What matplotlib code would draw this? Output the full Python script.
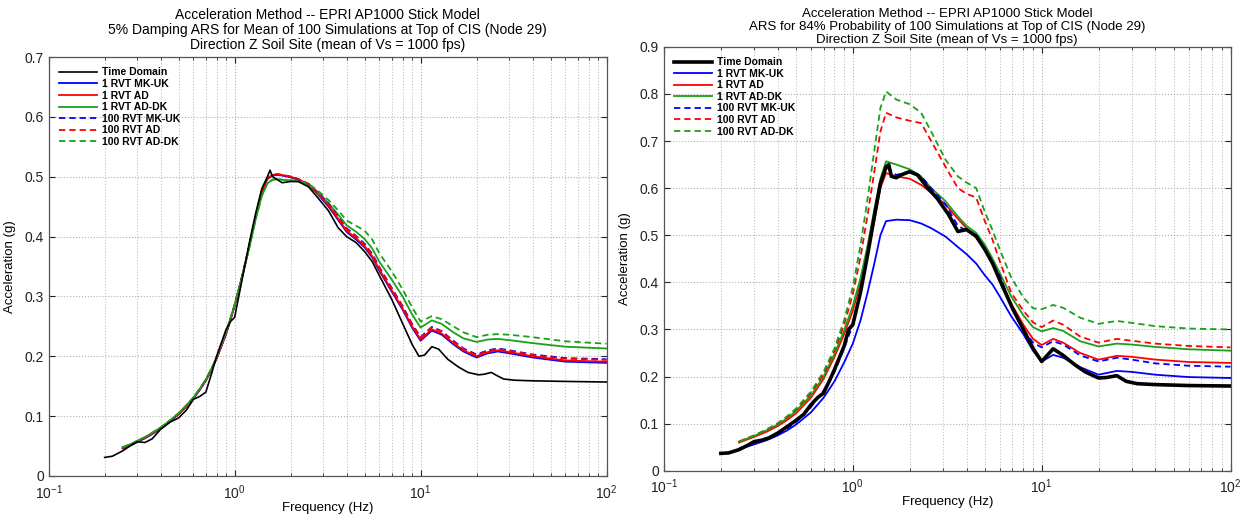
import matplotlib
matplotlib.use("Agg")
import matplotlib.pyplot as plt
from matplotlib.ticker import FixedLocator, NullFormatter

plt.rcParams['font.family'] = ['Liberation Sans', 'DejaVu Sans']
plt.rcParams['mathtext.fontset'] = 'custom'
plt.rcParams['mathtext.rm'] = 'Liberation Sans'
plt.rcParams['mathtext.it'] = 'Liberation Sans'

# ---- left chart: mean of 100 simulations ----
freq_td_left = [0.2, 0.22, 0.25, 0.28, 0.3, 0.33, 0.36, 0.4, 0.45, 0.5, 0.55, 0.6, 0.65, 0.7, 0.75,
                0.8, 0.9, 0.95, 1.0, 1.1, 1.2, 1.3, 1.4, 1.5, 1.55, 1.6, 1.7, 1.8, 2.0, 2.2, 2.5, 2.8,
                3.2, 3.6, 4.0, 4.5, 5.0, 5.5, 6.0, 7.0, 8.0, 9.0, 9.8, 10.5, 11.5, 12.5, 14, 16, 18,
                20.5, 22, 24, 26, 28, 32, 40, 60, 100]
td_left = [0.031, 0.033, 0.042, 0.052, 0.057, 0.056, 0.062, 0.078, 0.09, 0.097,
           0.11, 0.128, 0.133, 0.14, 0.17, 0.2, 0.245, 0.258, 0.265, 0.33,
           0.39, 0.44, 0.48, 0.5, 0.511, 0.5, 0.495, 0.49, 0.492, 0.492,
           0.483, 0.465, 0.443, 0.415, 0.4, 0.39, 0.375, 0.358, 0.335, 0.295,
           0.255, 0.22, 0.2, 0.202, 0.216, 0.212, 0.195, 0.182, 0.173, 0.169,
           0.17, 0.173, 0.167, 0.162, 0.16, 0.159, 0.158, 0.157]

freq_rvt_left = [0.25, 0.28, 0.3, 0.33, 0.36, 0.4, 0.45, 0.5, 0.55, 0.6, 0.65, 0.7, 0.75, 0.8, 0.9,
                 1.0, 1.1, 1.2, 1.3, 1.4, 1.5, 1.6, 1.7, 1.8, 2.0, 2.2, 2.5, 2.8, 3.2, 3.6, 4.0, 4.5,
                 5.0, 5.5, 6.0, 7.0, 8.0, 9.0, 10, 11.5, 13, 15, 17, 20, 23, 26, 30, 40, 60, 100]
mkuk1_left = [0.046, 0.052, 0.057, 0.063, 0.07, 0.079, 0.091, 0.103, 0.116, 0.129,
              0.144, 0.159, 0.177, 0.196, 0.237, 0.284, 0.334, 0.384, 0.434, 0.474,
              0.496, 0.502, 0.503, 0.502, 0.499, 0.495, 0.486, 0.471, 0.45, 0.428,
              0.408, 0.395, 0.382, 0.365, 0.343, 0.308, 0.278, 0.248, 0.226, 0.243,
              0.236, 0.22, 0.208, 0.198, 0.205, 0.208, 0.205, 0.198, 0.191, 0.189]
ad1_left = [0.047, 0.053, 0.058, 0.064, 0.071, 0.08, 0.092, 0.104, 0.117, 0.13,
            0.145, 0.16, 0.178, 0.197, 0.238, 0.285, 0.335, 0.385, 0.435, 0.475,
            0.497, 0.503, 0.504, 0.503, 0.5, 0.496, 0.487, 0.472, 0.452, 0.43,
            0.41, 0.397, 0.384, 0.367, 0.345, 0.31, 0.28, 0.25, 0.228, 0.245,
            0.238, 0.222, 0.21, 0.2, 0.207, 0.21, 0.207, 0.2, 0.193, 0.191]
addk1_left = [0.048, 0.054, 0.059, 0.065, 0.072, 0.081, 0.093, 0.105, 0.118, 0.131,
              0.146, 0.161, 0.179, 0.198, 0.24, 0.286, 0.334, 0.382, 0.43, 0.468,
              0.489, 0.495, 0.496, 0.495, 0.494, 0.492, 0.486, 0.474, 0.456, 0.437,
              0.419, 0.408, 0.396, 0.38, 0.358, 0.328, 0.3, 0.27, 0.248, 0.26,
              0.254, 0.24, 0.23, 0.224, 0.228, 0.229, 0.227, 0.222, 0.216, 0.213]
mkuk100_left = [0.047, 0.053, 0.058, 0.064, 0.071, 0.08, 0.092, 0.104, 0.117, 0.13,
                0.145, 0.16, 0.178, 0.197, 0.238, 0.285, 0.335, 0.385, 0.435, 0.475,
                0.497, 0.503, 0.504, 0.503, 0.5, 0.496, 0.488, 0.474, 0.455, 0.433,
                0.414, 0.401, 0.388, 0.371, 0.349, 0.314, 0.284, 0.254, 0.232, 0.249,
                0.242, 0.226, 0.213, 0.203, 0.21, 0.213, 0.21, 0.203, 0.197, 0.195]
ad100_left = [0.047, 0.053, 0.058, 0.064, 0.071, 0.08, 0.092, 0.104, 0.117, 0.13,
              0.145, 0.16, 0.178, 0.197, 0.238, 0.285, 0.335, 0.385, 0.435, 0.475,
              0.497, 0.503, 0.504, 0.503, 0.5, 0.496, 0.488, 0.473, 0.454, 0.432,
              0.413, 0.4, 0.387, 0.37, 0.348, 0.313, 0.283, 0.253, 0.231, 0.248,
              0.241, 0.225, 0.212, 0.202, 0.209, 0.212, 0.209, 0.202, 0.196, 0.194]
addk100_left = [0.048, 0.054, 0.059, 0.065, 0.072, 0.081, 0.093, 0.105, 0.118, 0.131,
                0.146, 0.161, 0.179, 0.198, 0.24, 0.286, 0.334, 0.382, 0.43, 0.468,
                0.489, 0.495, 0.496, 0.495, 0.494, 0.493, 0.488, 0.477, 0.461, 0.444,
                0.427, 0.418, 0.41, 0.395, 0.372, 0.342, 0.312, 0.282, 0.258, 0.267,
                0.262, 0.25, 0.24, 0.232, 0.236, 0.237, 0.236, 0.232, 0.225, 0.221]

# ---- right chart: 84% probability ----
freq_td_right = [0.2, 0.22, 0.25, 0.28, 0.3, 0.33, 0.36, 0.4, 0.45, 0.5, 0.55, 0.6, 0.65, 0.7, 0.75,
                 0.8, 0.9, 0.95, 1.0, 1.1, 1.2, 1.3, 1.4, 1.5, 1.55, 1.6, 1.7, 1.8, 2.0, 2.2, 2.5,
                 2.8, 3.2, 3.6, 4.0, 4.5, 5.0, 5.5, 6.0, 7.0, 8.0, 9.0, 10, 11.5, 13, 15, 17, 20,
                 22, 25, 28, 32, 40, 60, 100]
td_right = [0.037, 0.038, 0.045, 0.055, 0.062, 0.065, 0.07, 0.08, 0.094, 0.107,
            0.12, 0.14, 0.155, 0.165, 0.19, 0.215, 0.265, 0.3, 0.31, 0.38,
            0.46, 0.54, 0.61, 0.645, 0.65, 0.625, 0.622, 0.628, 0.635, 0.628,
            0.6, 0.578, 0.545, 0.508, 0.512, 0.498, 0.47, 0.44, 0.405, 0.345,
            0.3, 0.26, 0.232, 0.259, 0.245, 0.225, 0.21, 0.197, 0.198, 0.202,
            0.19, 0.185, 0.183, 0.181, 0.18]

freq_rvt_right = [0.25, 0.3, 0.35, 0.4, 0.45, 0.5, 0.6, 0.7, 0.8, 0.9, 1.0, 1.1, 1.2, 1.3, 1.4,
                  1.5, 1.7, 2.0, 2.3, 2.6, 3.1, 3.6, 4.0, 4.5, 5.0, 5.5, 6.0, 6.9, 8.0, 9.0, 10,
                  11.5, 13, 16, 20, 25, 30, 40, 60, 100]
mkuk1_right = [0.046, 0.056, 0.065, 0.075, 0.086, 0.098, 0.124, 0.155, 0.19, 0.23,
               0.27, 0.32, 0.38, 0.44, 0.5, 0.53, 0.533, 0.532, 0.525, 0.515,
               0.497, 0.475, 0.46, 0.44, 0.415, 0.395, 0.37, 0.328, 0.29, 0.255,
               0.232, 0.246, 0.24, 0.22, 0.204, 0.212, 0.21, 0.204, 0.199, 0.197]
ad1_right = [0.06, 0.072, 0.083, 0.095, 0.108, 0.122, 0.155, 0.195, 0.242, 0.29,
             0.34, 0.4, 0.46, 0.53, 0.6, 0.632, 0.625, 0.62, 0.607, 0.59,
             0.565, 0.535, 0.515, 0.495, 0.47, 0.44, 0.41, 0.355, 0.31, 0.28,
             0.267, 0.28, 0.272, 0.25, 0.236, 0.244, 0.242, 0.236, 0.231, 0.229]
addk1_right = [0.062, 0.074, 0.086, 0.098, 0.112, 0.127, 0.16, 0.2, 0.248, 0.298,
               0.35, 0.41, 0.48, 0.555, 0.62, 0.657, 0.65, 0.64, 0.625, 0.6,
               0.572, 0.54, 0.52, 0.505, 0.48, 0.45, 0.42, 0.37, 0.33, 0.305,
               0.296, 0.303, 0.297, 0.275, 0.264, 0.27, 0.268, 0.263, 0.258, 0.255]
mkuk100_right = [0.048, 0.058, 0.068, 0.078, 0.09, 0.103, 0.135, 0.17, 0.21, 0.26,
                 0.31, 0.38, 0.46, 0.54, 0.605, 0.645, 0.628, 0.635, 0.625, 0.6,
                 0.565, 0.52, 0.51, 0.497, 0.47, 0.44, 0.415, 0.35, 0.3, 0.272,
                 0.262, 0.275, 0.268, 0.245, 0.232, 0.24, 0.236, 0.228, 0.223, 0.221]
ad100_right = [0.062, 0.075, 0.087, 0.1, 0.114, 0.13, 0.165, 0.205, 0.255, 0.31,
               0.375, 0.455, 0.545, 0.635, 0.72, 0.76, 0.75, 0.743, 0.738, 0.7,
               0.645, 0.6, 0.588, 0.58, 0.53, 0.49, 0.445, 0.378, 0.34, 0.315,
               0.305, 0.319, 0.31, 0.285, 0.272, 0.28, 0.276, 0.27, 0.265, 0.262]
addk100_right = [0.062, 0.075, 0.088, 0.101, 0.116, 0.132, 0.168, 0.21, 0.26, 0.32,
                 0.39, 0.48, 0.58, 0.68, 0.77, 0.805, 0.788, 0.778, 0.76, 0.72,
                 0.66, 0.625, 0.612, 0.6, 0.55, 0.51, 0.47, 0.41, 0.368, 0.345,
                 0.343, 0.352, 0.346, 0.325, 0.312, 0.318, 0.314, 0.307, 0.302, 0.3]

labels = ['Time Domain', '1 RVT MK-UK', '1 RVT AD', '1 RVT AD-DK',
          '100 RVT MK-UK', '100 RVT AD', '100 RVT AD-DK']
BLUE, RED, GREEN = '#0000ff', '#ff0000', '#1aa01a'
DASH = (0, (3.5, 2.2))

titles_left = ['Acceleration Method -- EPRI AP1000 Stick Model',
               '5% Damping ARS for Mean of 100 Simulations at Top of CIS (Node 29)',
               'Direction Z Soil Site (mean of Vs = 1000 fps)']
titles_right = ['Acceleration Method -- EPRI AP1000 Stick Model',
                'ARS for 84% Probability of 100 Simulations at Top of CIS (Node 29)',
                'Direction Z Soil Site (mean of Vs = 1000 fps)']


def draw_panel(ax, f_td, td, f_rvt, rvt_series, ymax, td_width, title_lines, title_size, title_pad):
    styles = [(BLUE, '-'), (RED, '-'), (GREEN, '-'), (BLUE, DASH), (RED, DASH), (GREEN, DASH)]
    ax.plot(f_td, td, color='black', lw=td_width, label=labels[0], zorder=5)
    for vals, (col, ls), lab in zip(rvt_series, styles, labels[1:]):
        ax.plot(f_rvt, vals, color=col, ls=ls, lw=1.3, label=lab)

    ax.set_xscale('log')
    ax.set_xlim(0.1, 100)
    ax.set_ylim(0, ymax)
    ax.yaxis.set_major_locator(FixedLocator([i / 10 for i in range(int(round(ymax * 10)) + 1)]))
    ax.yaxis.set_major_formatter(plt.FuncFormatter(lambda v, p: '%g' % v))
    ax.xaxis.set_minor_formatter(NullFormatter())
    ax.grid(True, which='major', color='#b0b0b0', ls=':', lw=0.8)
    ax.grid(True, which='minor', axis='x', color='#c0c0c0', ls=':', lw=0.8)
    ax.tick_params(which='both', direction='in', top=True, right=True, labelsize=10,
                   colors='#222222')
    ax.tick_params(axis='x', which='major', pad=5)
    ax.tick_params(which='major', length=4)
    ax.tick_params(which='minor', length=2.5)
    for s in ax.spines.values():
        s.set_color('#555555')
        s.set_linewidth(0.9)

    ax.set_xlabel('Frequency (Hz)', fontsize=9.5, labelpad=0)
    ax.set_ylabel('Acceleration (g)', fontsize=9.5, labelpad=6)
    ax.set_title('\n'.join(title_lines), fontsize=title_size, pad=title_pad, linespacing=1.08)

    leg = ax.legend(loc='upper left', frameon=False,
                    prop={'weight': 'bold', 'size': 7.5}, handlelength=3.6,
                    handletextpad=0.5, labelspacing=0.15, borderaxespad=0.6)
    return leg


fig = plt.figure(figsize=(12.48, 5.14), dpi=100)
ax1 = fig.add_axes([0.039, 0.074, 0.447, 0.815])
ax2 = fig.add_axes([0.532, 0.084, 0.454, 0.825])

draw_panel(ax1, freq_td_left, td_left, freq_rvt_left,
           [mkuk1_left, ad1_left, addk1_left, mkuk100_left, ad100_left, addk100_left],
           0.7, 1.2, titles_left, 10, 6)
draw_panel(ax2, freq_td_right, td_right, freq_rvt_right,
           [mkuk1_right, ad1_right, addk1_right, mkuk100_right, ad100_right, addk100_right],
           0.9, 2.6, titles_right, 9.5, 3)

fig.savefig('out.png', dpi=100)
